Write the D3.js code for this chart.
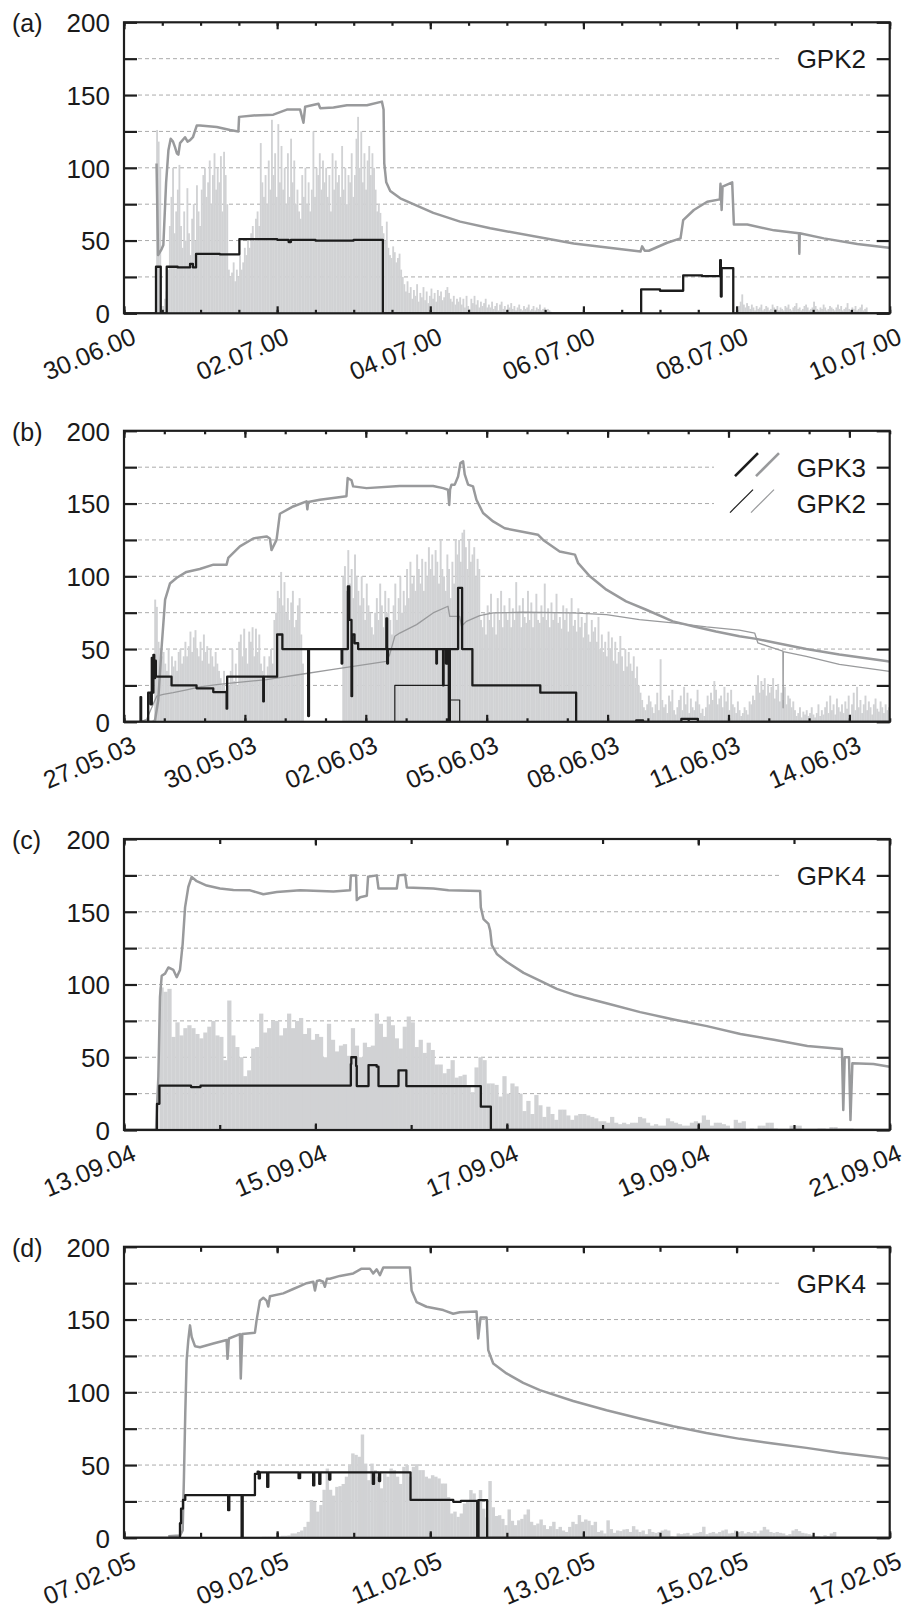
<!DOCTYPE html>
<html><head><meta charset="utf-8">
<script src="https://cdn.jsdelivr.net/npm/d3@7"></script>
<style>
body{margin:0;background:#fff;}
svg text{font-family:"Liberation Sans",Arial,Helvetica,sans-serif;fill:#1a1a1a;}
</style></head><body>
<svg id="c" width="905" height="1609"></svg>
<script>
// ---------------- DATA ----------------
const panelIds   = ["(a)","(b)","(c)","(d)"];
const startDates = ["30.06.00","27.05.03","13.09.04","07.02.05"];
const endDates   = ["10.07.00","15.06.03","21.09.04","17.02.05"];
const tickLabelsA = ["30.06.00","02.07.00","04.07.00","06.07.00","08.07.00","10.07.00"];
const tickLabelsB = ["27.05.03","30.05.03","02.06.03","05.06.03","08.06.03","11.06.03","14.06.03"];
const tickLabelsC = ["13.09.04","15.09.04","17.09.04","19.09.04","21.09.04"];
const tickLabelsD = ["07.02.05","09.02.05","11.02.05","13.02.05","15.02.05","17.02.05"];
const yTicks = [0,25,50,75,100,125,150,175,200];
const yLabels = [0,50,100,150,200];
const seriesNames = ["GPK2","GPK3","GPK4","GPK4"];

// bars: values, first bar start (days after panel start), bar length (hours)
const barsA1Start = 0.42, barsA1Step = 0.5;
const barsA1 = [126,118,100,5,5,10,15,30,60,80,100,55,70,85,102,60,45,70,50,86,55,40,65,75,50,88,70,60,85,95,100,80,90,105,75,95,110,85,100,90,108,70,111,95,75,30,25,28,35,22,30,25,40,30,35,45,40,50,45,55,60,50,65,70,60,117,90,80,95,75,105,85,133,95,110,80,130,90,115,85,100,75,110,80,120,90,105,75,85,70,65,95,80,100,75,90,70,85,125,80,100,95,110,85,105,90,100,80,95,70,110,85,105,90,95,80,115,85,100,75,95,90,110,80,95,120,135,100,125,90,110,85,105,115,95,110,100,85,70,75,69,60,55,50,63,45,40,38,46,42,35,38,41,30,25,20,15,22,14,18,10,16,12,20,8,14,11,18,9,15,7,12,17,10,14,8,16,12,15,9,11,
16,18,14,10,8,12,6,10,8,11,6,10,4,12,5,3,10,7,12,6,9,4,8,5,7,10,4,6,4,8,3,5,7,2,6,8,3,5,2,6,4,7,3,5,2,4,6,3,2,5,3,4,6,2,3,5,2,4,3,6,2,3,4,2,3,2,1];
const barsA2Start = 8.0, barsA2Step = 0.5;
const barsA2 = [3,5,8,13,6,4,7,5,3,6,4,2,5,3,4,6,2,3,5,4,2,3,6,4,3,5,2,4,3,2,5,4,6,3,2,4,5,7,3,4,2,3,5,6,4,2,3,4,8,5,3,2,4,3,6,4,2,3,5,4,3,2,4,6,3,5,2,3,4,7,3,2,4,3,5,2,3,4,6,2,3,4];
const barsBStart = 0.75, barsBStep = 1;
const barsB = [84,79,55,50,45,48,40,35,50,30,45,38,42,35,48,50,40,45,55,45,52,62,48,58,63,50,45,55,42,60,48,52,40,50,45,38,48,40,35,30,25,35,22,30,25,35,50,28,40,25,55,60,45,64,50,40,62,55,65,45,64,48,60,40,35,45,30,38,45,50,40,70,75,90,85,103,80,96,75,85,70,82,90,65,70,80,85,60,40,
0,0,0,0,0,0,0,0,0,0,0,0,0,0,0,0,0,0,0,0,0,0,0,
100,107,90,118,95,105,85,115,100,90,80,100,85,70,95,80,75,65,60,75,85,70,95,80,65,90,75,85,70,60,80,95,70,85,100,75,90,80,105,85,110,95,100,90,115,105,95,112,90,110,100,120,105,115,100,118,110,95,125,105,100,90,115,105,85,110,95,125,115,
125,110,130,132,120,105,125,110,115,120,100,112,105,70,65,75,60,80,70,88,65,75,60,85,70,90,65,80,75,70,85,65,78,70,96,75,80,65,85,72,68,90,70,82,65,75,88,70,68,80,72,95,70,78,65,82,70,75,88,68,72,64,80,70,78,62,75,85,66,70,62,78,65,72,58,68,75,60,55,70,62,65,55,72,50,60,48,55,45,62,50,58,42,55,40,48,59,45,35,50,38,48,40,35,45,30,38,25,20,15,10,8,12,18,14,10,6,12,20,8,43,15,10,12,6,18,14,22,8,5,10,15,18,8,24,12,20,6,16,10,8,14,22,12,6,9,4,10,18,12,20,15,28,22,12,16,18,10,24,14,20,8,22,12,10,6,14,8,4,6,10,8,5,14,12,18,15,25,32,20,28,22,30,18,26,20,24,30,16,22,26,14,20,15,24,12,18,16,10,14,8,4,6,10,3,7,5,8,4,6,10,5,3,6,12,4,8,5,10,14,6,18,8,12,5,16,10,7,12,6,14,9,18,5,12,20,8,24,10,15,6,12,18,8,14,10,5,12,16,9,7,14,10,6,12,8,10,5];
const barsCStart = 0.37, barsCStep = 1;
const barsC = [98,95,97,64,74,65,70,72,70,66,63,67,71,75,65,64,48,89,65,57,50,37,41,56,57,80,67,70,75,75,65,70,80,70,75,77,66,70,62,66,64,50,73,62,54,58,59,51,70,58,50,60,57,58,80,73,64,78,72,63,56,71,78,74,57,62,53,60,55,45,45,39,42,48,36,
37,38,30,26,43,50,48,32,32,31,23,37,25,32,30,25,13,20,11,24,17,9,16,11,7,14,14,10,7,10,11,11,10,9,8,6,6,5,9,5,4,5,4,5,5,9,8,5,3,4,3,3,8,6,5,4,3,3,5,6,5,10,7,3,5,5,4,3,1,7,5,6,0,1,0,3,3,5,5,1,0,0,0,3,3,3,0,0,0,0,1,1,0,2,2,1,1,1,1];
const barsDStart = 1.8, barsDStep = 1;
const barsD = [0.7,0.7,0.7,0.5,0.3,1,1.4,1.4,1.6,3,3,4,5,7.5,11,26,24.7,18,22.5,33,47.6,33,29,35,35.5,37,42,50,58,57,55.7,71,51,39.6,51,46.5,42,34,44,42,47.6,46.5,42,37,48.8,50,42,48.8,50.6,46.5,46.5,42,40.8,43,42,40.8,37.3,37.3,28,16.7,18,14.4,16.7,23.6,25.9,32.8,30.5,19,32.8,20,14,39,21,15,15.5,13,8.7,19.5,11.7,8.7,12,13,16,19.5,11,8.7,9.8,12.6,8.7,6,8,11,6,7.5,5,4,7.5,11,9.4,15.6,11,12.6,11.7,8.7,11,4,5,3,12,6,3.4,5,4.6,5.7,6,4,8,5.7,4,5,2.5,6,4,3.4,4,5,5.7,5,1,0.7,3,2.5,3,3.4,1.8,3,3.4,4,7.6,2.5,3.4,4,3,4,5,5.7,3,3.4,5,4,4.6,3,4,3.4,4.6,3,5,7.5,5.7,4,3.4,4,3.4,3,1.8,2.5,5,6,4.6,3.4,3,2.5,1.8,1.2,1.2,0.7,1.8,1.2,3,4];

// lines: [days after panel start, value]
const grayA = [[0.425,103],[0.445,40],[0.49,44],[0.514,47],[0.55,90],[0.58,112],[0.61,120],[0.64,118],[0.667,114],[0.69,110],[0.71,109],[0.732,117],[0.797,121],[0.83,118],[0.863,119],[0.90,121],[0.95,129],[0.993,129],[1.211,128],[1.386,126],[1.494,125],[1.503,135],[1.69,136],[1.95,136.5],[2.127,140],[2.30,140],[2.344,131],[2.366,142],[2.54,144],[2.562,141],[2.736,141.5],[2.911,143],[3.172,143],[3.368,145.5],[3.39,140],[3.399,103],[3.425,90],[3.477,84],[3.608,79],[4.04,69],[4.39,63],[4.784,58.4],[5.873,48],[6.745,42.4],[6.767,46],[6.80,43],[6.854,43],[7.094,48.5],[7.268,51.5],[7.303,64],[7.442,71],[7.616,76.7],[7.782,78.3],[7.79,89],[7.805,71],[7.817,87],[7.943,90],[7.965,61],[8.14,61],[8.49,57],[8.815,55],[8.82,41],[8.825,55],[9.14,51.5],[9.577,47.6],[9.99,45],[10,45]];
const blackA = [[0,0],[0.418,32],[0.48,0],[0.558,32],[0.70,31.5],[0.863,34],[0.90,31.5],[0.941,40.8],[1.25,40.5],[1.507,51],[2.0,50.5],[2.15,49],[2.18,50.5],[2.5,50],[3.0,50.5],[3.381,0],[6.754,16.5],[7.0,15.5],[7.303,26],[7.55,25.5],[7.786,36.6],[7.795,11.5],[7.805,31],[7.957,0],[10,0]];

const grayB3 = [[0.40,0],[0.70,0],[0.77,1],[0.85,15],[0.93,50],[1.02,84],[1.14,95],[1.31,99],[1.55,103],[1.88,105],[2.22,108],[2.546,108],[2.587,112.6],[2.876,120.6],[3.207,126],[3.537,127.4],[3.62,126],[3.66,118],[3.785,125],[3.868,143],[4.198,148],[4.529,151.5],[4.55,146],[4.57,151],[4.86,152.6],[5.19,153.8],[5.52,155],[5.55,167.5],[5.645,166],[5.686,161.8],[6.017,160.6],[6.843,162],[7.67,162],[7.917,160.6],[8.04,159.5],[8.07,149],[8.09,159.5],[8.125,162.9],[8.207,163],[8.29,168.6],[8.348,177.8],[8.414,179],[8.455,170],[8.538,163],[8.66,161.8],[8.745,152.6],[8.91,143.5],[9.16,137.7],[9.447,133],[9.82,131],[10.27,128.6],[10.40,125],[10.81,117],[11.19,114.9],[11.27,109],[11.56,100],[11.97,90.8],[12.46,82.8],[12.96,77],[13.62,69],[14.12,65.7],[14.69,62],[15.27,58.8],[15.69,57],[16.1,54.7],[16.93,50],[17.75,46.2],[18.95,41.6],[19,41.5]];
const grayB2 = [[0.40,0],[0.56,1.6],[0.686,9.6],[0.81,17.6],[0.975,18.8],[1.22,20],[1.554,22],[1.884,24],[2.3,25.6],[2.71,26.8],[3.537,29],[4.36,32.5],[5.19,36],[6.017,39.4],[6.51,41.6],[6.59,46],[6.72,58.8],[6.843,61],[7.26,66.8],[7.67,74.8],[8.04,79.4],[8.083,72.5],[8.33,72.5],[8.373,65.7],[8.497,69],[8.827,73],[9.16,74.8],[9.90,75.3],[11.14,74.8],[11.97,73.7],[12.79,70.2],[13.62,68],[14.45,65.2],[15.27,63],[15.65,61],[15.73,54.2],[16.1,50.8],[16.35,48.5],[16.355,9.6],[16.36,48.3],[16.93,45],[17.75,39.4],[18.95,34.8],[19,34.6]];
const blackB3 = [[0,0],[0.41,17],[0.425,0],[0.60,20],[0.66,12],[0.69,44],[0.71,20],[0.73,46],[0.75,30],[0.77,42],[0.79,31],[1.18,25],[1.80,23],[2.215,20.4],[2.546,9],[2.56,31],[3.455,14],[3.47,31],[3.80,60],[3.93,50],[4.57,4],[4.59,50],[5.40,40],[5.415,50],[5.555,93],[5.59,70],[5.645,17.6],[5.66,60],[5.72,54],[5.81,50],[6.51,71],[6.53,40],[6.55,50],[7.75,40],[7.765,50],[7.917,25],[7.93,50],[7.99,40],[8.00,50],[8.04,40],[8.05,50],[8.06,0],[8.085,50],[8.29,92],[8.39,50],[8.645,25],[10.33,20],[11.22,0],[12.71,1],[12.88,0],[13.83,2],[14.24,0],[19,0]];
const blackB2 = [[0,0],[6.72,25],[8.06,15],[8.33,0],[19,0]];

const grayC = [[0.3345,0],[0.359,36.6],[0.376,91.5],[0.394,106],[0.429,107.5],[0.463,111.7],[0.516,110],[0.551,105],[0.585,110],[0.613,128],[0.638,153],[0.672,167],[0.707,174],[0.76,171],[0.864,168],[1.003,166],[1.143,165],[1.317,164.7],[1.456,162],[1.596,163.6],[1.84,164.7],[2.188,164],[2.362,164.7],[2.37,175],[2.425,175],[2.432,158],[2.467,160],[2.537,161],[2.55,174],[2.641,175],[2.659,166],[2.85,166],[2.868,175],[2.937,175.5],[2.955,166.6],[3.233,166],[3.39,164.7],[3.721,164.3],[3.728,153],[3.756,145],[3.808,141.6],[3.826,137],[3.843,127],[3.895,121],[4.0,115.5],[4.175,108],[4.35,102.5],[4.522,97],[4.697,93],[5.05,87],[5.393,81],[5.742,76],[6.09,71.4],[6.44,66],[6.79,62],[7.14,57.7],[7.501,55.6],[7.515,13.7],[7.53,50],[7.575,50],[7.59,6.9],[7.61,45.8],[7.83,45.3],[8,43.5]];
const blackC = [[0,0],[0.345,18],[0.37,30.5],[0.7,29.5],[0.8,30.5],[2.37,45.3],[2.375,50],[2.425,44],[2.432,30.2],[2.555,44.6],[2.64,43.5],[2.659,30.2],[2.868,41],[2.95,30.2],[3.728,16],[3.833,0],[8,0]];

const grayD = [[0.578,1],[0.731,1.5],[0.766,5],[0.783,42],[0.8,85],[0.818,122],[0.84,136],[0.862,146],[0.884,138],[0.927,131.7],[0.992,131],[1.166,133.5],[1.34,136],[1.352,123],[1.37,137],[1.514,140],[1.525,109.5],[1.545,140],[1.71,141],[1.732,149.6],[1.775,163],[1.819,165],[1.862,163],[1.884,159],[1.906,166],[2.08,168],[2.21,171],[2.298,173],[2.385,175],[2.472,176],[2.494,170],[2.52,176.5],[2.559,177],[2.6,176],[2.624,172.5],[2.65,178],[2.689,178],[2.82,180],[2.994,181.7],[3.103,185],[3.211,185],[3.255,181.7],[3.3,184.5],[3.342,180.5],[3.386,185.8],[3.734,185.8],[3.756,170],[3.821,162],[3.951,158.8],[4.169,156.5],[4.299,154],[4.386,155],[4.604,155.6],[4.626,137],[4.656,151.4],[4.735,151.4],[4.757,129],[4.822,119.8],[4.996,113],[5.214,106.5],[5.431,101.5],[5.866,94],[6.302,87.7],[6.737,82],[7.172,76.7],[7.606,72],[8.042,68],[8.477,64.8],[8.912,61.8],[9.347,58.4],[9.978,54.5],[10,54.4]];
const blackD = [[0,0],[0.731,10],[0.745,20],[0.77,26],[0.80,29.3],[1.36,19],[1.375,29.3],[1.536,0],[1.55,29.3],[1.71,44],[1.745,45.4],[1.76,40.8],[1.775,45],[1.87,35],[1.885,45],[2.28,41],[2.30,45],[2.47,36],[2.485,45],[2.55,37],[2.565,45],[2.68,40],[2.695,45],[3.25,37],[3.265,45],[3.33,39],[3.345,45],[3.742,26],[4.3,24.7],[4.40,25.4],[4.613,0],[4.63,25.9],[4.743,0],[10,0]];

// ---------------- LAYOUT / STYLE ----------------
const DAY = 864e5;
const L = 124, R = 889.7, PH = 291;
const tops = [22.3, 430.8, 839, 1246.8];
const minorHours = [12, 24, 24, 24];
const minorLen = [3.5, 3.5, 5, 5], majorLen = [7, 7, 6.5, 6.5];
const C_BAR = "#d1d2d4", C_GRAY = "#999a9c", C_BLACK = "#1c1c1c", C_AXIS = "#1e1e1e";
const FS = 25, FSY = 26;

const panels = [
  {bars:[[barsA1,barsA1Start,barsA1Step],[barsA2,barsA2Start,barsA2Step]], labels:tickLabelsA,
   lines:[{d:grayA,c:C_GRAY,w:2.5,step:false},{d:blackA,c:C_BLACK,w:2.3,step:true}]},
  {bars:[[barsB,barsBStart,barsBStep]], labels:tickLabelsB,
   lines:[{d:grayB2,c:C_GRAY,w:1.3,step:false},{d:grayB3,c:C_GRAY,w:2.5,step:false},
          {d:blackB2,c:C_BLACK,w:1.2,step:true},{d:blackB3,c:C_BLACK,w:2.3,step:true}]},
  {bars:[[barsC,barsCStart,barsCStep]], labels:tickLabelsC,
   lines:[{d:grayC,c:C_GRAY,w:2.5,step:false},{d:blackC,c:C_BLACK,w:2.3,step:true}]},
  {bars:[[barsD,barsDStart,barsDStep]], labels:tickLabelsD,
   lines:[{d:grayD,c:C_GRAY,w:2.5,step:false},{d:blackD,c:C_BLACK,w:2.3,step:true}]}
];

const svg = d3.select("#c");
svg.append("rect").attr("width",905).attr("height",1609).attr("fill","#fff");
const parse = d3.utcParse("%d.%m.%y");
const fmt = d3.utcFormat("%d.%m.%y");

panels.forEach((p,k)=>{
  const top = tops[k], bottom = top + PH;
  const t0 = parse(startDates[k]), t1 = parse(endDates[k]);
  const T = d => new Date(+t0 + d*DAY);
  const x = d3.scaleUtc([t0,t1],[L,R]);
  const y = d3.scaleLinear([0,200],[bottom,top]);
  const g = svg.append("g");
  const cid = "clip"+k;
  g.append("clipPath").attr("id",cid).append("rect")
    .attr("x",L).attr("y",top).attr("width",R-L).attr("height",PH);

  // grid
  g.append("g").selectAll("line").data(yTicks.filter(v=>v>0&&v<200)).join("line")
    .attr("x1",L+14).attr("x2",R-17).attr("y1",d=>y(d)).attr("y2",d=>y(d))
    .attr("stroke","#ababab").attr("stroke-width",1).attr("stroke-dasharray","4,3");

  // bars
  const bg = g.append("g").attr("clip-path",`url(#${cid})`);
  p.bars.forEach(([vals,s,stepH])=>{
    const data = vals.map((v,i)=>({a:s+i*stepH/24, b:s+(i+1)*stepH/24, v}));
    bg.append("g").selectAll("rect").data(data).join("rect")
      .attr("x",d=>x(T(d.a))).attr("width",d=>x(T(d.b))-x(T(d.a))+0.25)
      .attr("y",d=>y(d.v)).attr("height",d=>y(0)-y(d.v))
      .attr("fill",C_BAR);
  });

  // lines
  const lg = g.append("g").attr("clip-path",`url(#${cid})`);
  p.lines.forEach(ln=>{
    const gen = d3.line().x(d=>x(T(d[0]))).y(d=>y(d[1]))
      .curve(ln.step ? d3.curveStepAfter : d3.curveLinear);
    lg.append("path").attr("d",gen(ln.d)).attr("fill","none")
      .attr("stroke",ln.c).attr("stroke-width",ln.w).attr("stroke-linejoin","round");
  });

  // series label / legend
  if (k === 1) {
    g.append("rect").attr("x",714).attr("y",top+14).attr("width",158).attr("height",82).attr("fill","#fff");
    const leg = [
      {t:"GPK3", y:y(175), w:2.6},
      {t:"GPK2", y:y(150), w:1.2}
    ];
    leg.forEach((o,j)=>{
      const xb = j===0 ? 735 : 730, dx = 21;
      g.append("line").attr("x1",xb).attr("y1",o.y+9).attr("x2",xb+23).attr("y2",o.y-14)
        .attr("stroke",C_BLACK).attr("stroke-width",o.w);
      g.append("line").attr("x1",xb+dx).attr("y1",o.y+9).attr("x2",xb+dx+23).attr("y2",o.y-14)
        .attr("stroke",C_GRAY).attr("stroke-width",o.w);
      g.append("text").attr("x",866).attr("y",o.y).attr("dy","0.36em")
        .attr("text-anchor","end").attr("font-size",26).text(o.t);
    });
  } else {
    g.append("rect").attr("x",781).attr("y",y(175)-15).attr("width",91).attr("height",30).attr("fill","#fff");
    g.append("text").attr("x",866).attr("y",y(175)).attr("dy","0.36em")
      .attr("text-anchor","end").attr("font-size",26).text(seriesNames[k]);
  }

  // axes
  const minorTicks = minorHours[k]===12 ? d3.utcHour.every(12).range(t0, new Date(+t1+1)) : d3.utcDay.range(t0, new Date(+t1+1));
  const majorTicks = p.labels.map(parse);
  const style = sel => { sel.select(".domain").remove(); sel.selectAll("line").attr("stroke",C_AXIS).attr("stroke-width",2.2); };

  g.append("g").attr("transform",`translate(0,${bottom})`)
    .call(d3.axisBottom(x).tickValues(minorTicks).tickSize(-minorLen[k]).tickFormat("")).call(style);
  g.append("g").attr("transform",`translate(0,${top})`)
    .call(d3.axisTop(x).tickValues(minorTicks).tickSize(-minorLen[k]).tickFormat("")).call(style);
  g.append("g").attr("transform",`translate(0,${top})`)
    .call(d3.axisTop(x).tickValues(majorTicks).tickSize(-majorLen[k]).tickFormat("")).call(style);
  const gb = g.append("g").attr("transform",`translate(0,${bottom})`)
    .call(d3.axisBottom(x).tickValues(majorTicks).tickSize(-majorLen[k]).tickFormat(fmt)).call(style);
  gb.attr("font-size",null).attr("font-family",null);
  gb.selectAll("text").attr("x",0).attr("y",0).attr("dy",null)
    .attr("font-size",FS).attr("text-anchor","end").attr("fill","#1a1a1a")
    .attr("transform","translate(13,29.5) rotate(-23)");

  const gl = g.append("g").attr("transform",`translate(${L},0)`)
    .call(d3.axisLeft(y).tickValues(yTicks).tickSize(-13).tickFormat(d=>yLabels.includes(d)?d:"")).call(style);
  gl.attr("font-size",null).attr("font-family",null);
  gl.selectAll("text").attr("x",-14).attr("dy","0.36em").attr("font-size",FSY).attr("fill","#1a1a1a");
  g.append("g").attr("transform",`translate(${R},0)`)
    .call(d3.axisRight(y).tickValues(yTicks).tickSize(-13).tickFormat("")).call(style);

  // frame
  g.append("rect").attr("x",L).attr("y",top).attr("width",R-L).attr("height",PH)
    .attr("fill","none").attr("stroke",C_AXIS).attr("stroke-width",2.2);

  // panel id
  g.append("text").attr("x",12).attr("y",top+10).attr("font-size",FS).text(panelIds[k]);
});
</script>
</body></html>
